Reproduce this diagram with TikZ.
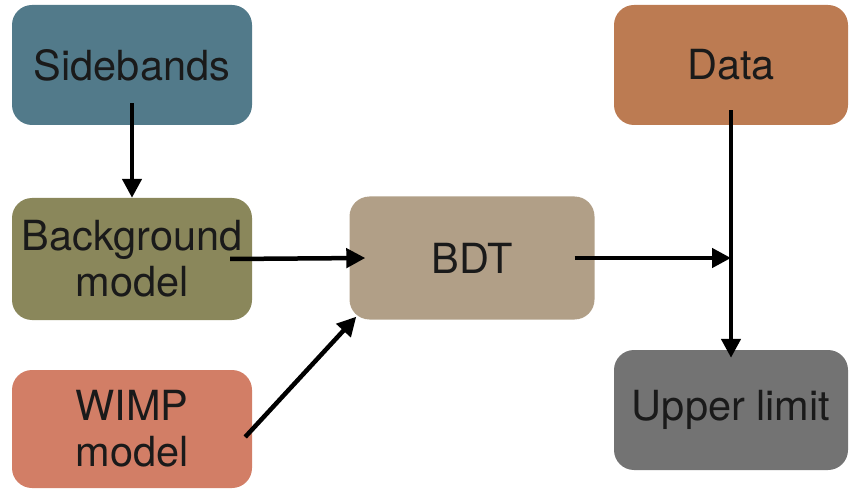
\documentclass[tikz,border=0pt]{standalone}
\usepackage{fontspec}
\setmainfont{TeX Gyre Heros}
\usetikzlibrary{arrows.meta,calc}
\definecolor{cside}{HTML}{527A8A}
\definecolor{cback}{HTML}{8A875B}
\definecolor{cwimp}{HTML}{D27E66}
\definecolor{cbdt}{HTML}{B19F87}
\definecolor{cdata}{HTML}{BC7B52}
\definecolor{cupper}{HTML}{737373}
\definecolor{ctext}{HTML}{1A1A1A}
\begin{document}
\begin{tikzpicture}[x=1pt,y=-1pt,
  box/.style={rectangle,rounded corners=20pt,draw=none,text=ctext,align=center,
    font=\fontsize{41.5}{46}\selectfont,inner sep=0pt},
  arr/.style={line width=4.5pt,-{Triangle[length=19pt,width=19pt]}}]
\useasboundingbox (0,0) rectangle (849,489);
\node[box,fill=cside,minimum width=240pt,minimum height=120pt] (sb) at (132,65) {Sidebands};
\node[box,fill=cback,minimum width=240pt,minimum height=122pt] (bg) at (132,259) {Background\\model};
\node[box,fill=cwimp,minimum width=240pt,minimum height=118pt] (wimp) at (132,429) {WIMP\\model};
\node[box,fill=cbdt,minimum width=245pt,minimum height=123pt] (bdt) at (472,258) {BDT};
\node[box,fill=cdata,minimum width=234pt,minimum height=120pt] (data) at (731,65) {Data};
\node[box,fill=cupper,minimum width=234pt,minimum height=120pt] (up) at (731,410) {Upper limit};
\coordinate (j) at (data.center |- bdt.center);
\draw[arr] ($(sb.south)+(0,-22)$) -- (bg.north);
\draw[arr] ($(bg.east)+(-22,0)$) -- ($(bdt.west)+(16,0)$);
\draw[arr] ($(wimp.east)+(-7,8)$) -- ($(bdt.south west)+(7,-3)$);
\draw[arr] ($(bdt.east)+(-20,0)$) -- (j);
\draw[arr] ($(data.south)+(0,-15)$) -- ($(up.north)+(0,8)$);
\end{tikzpicture}
\end{document}
